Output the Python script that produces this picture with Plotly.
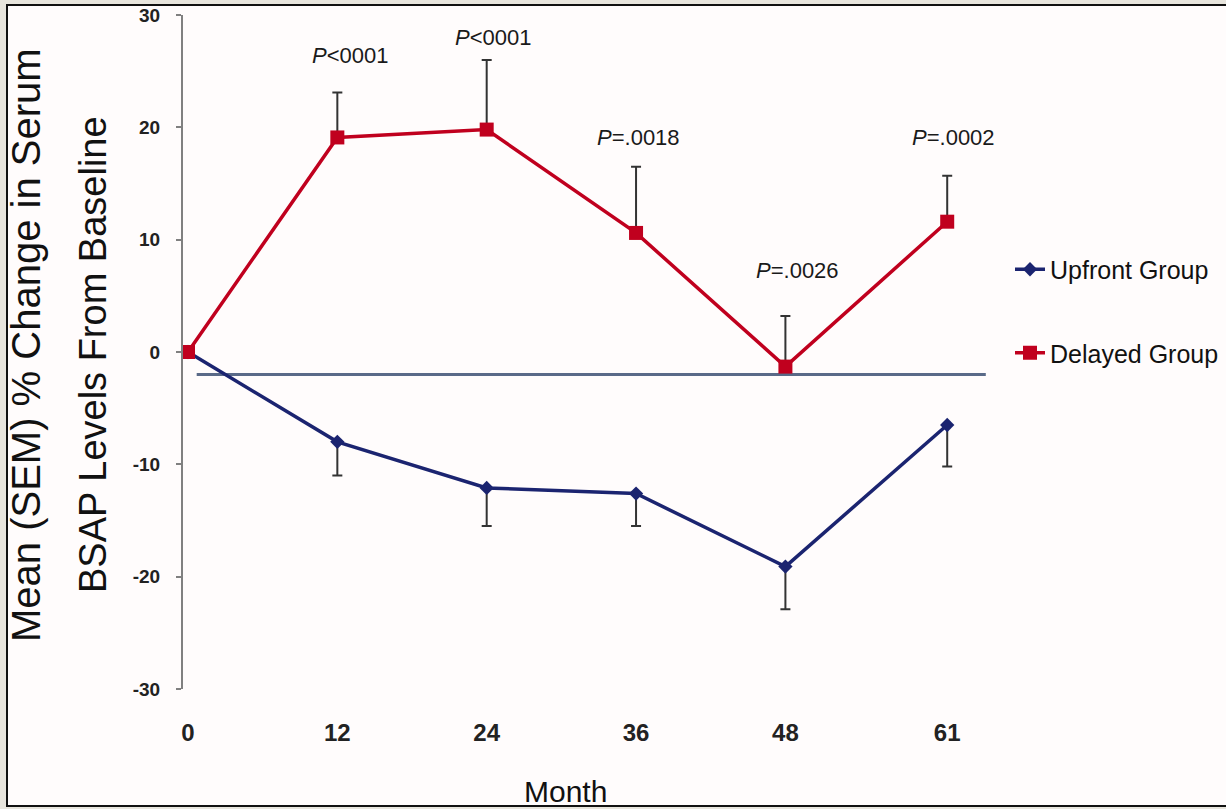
import plotly.graph_objects as go

months = [0, 12, 24, 36, 48, 61]
tick_labels = ["0", "12", "24", "36", "48", "61"]

upfront = [0, -8.0, -12.1, -12.6, -19.1, -6.5]
upfront_sem = [0, 3.0, 3.4, 2.9, 3.8, 3.7]

delayed = [0, 19.1, 19.8, 10.6, -1.3, 11.6]
delayed_sem = [0, 4.0, 6.2, 5.9, 4.5, 4.1]

p_labels = ["", "<i>P</i><0001", "<i>P</i><0001", "<i>P</i>=.0018", "<i>P</i>=.0026", "<i>P</i>=.0002"]
p_label_y = [None, 26.4, 28.0, 19.1, 7.3, 19.1]
p_label_xshift = [0, 13, 6, 2, 12, 6]

y_ticks = [-30, -20, -10, 0, 10, 20, 30]
y_tick_text = ["-30", "-20", "-10", "0", "10", "20", "30"]
ref_line_y = -2
ref_line_x = [0.7, 64.1]

FONT = "Liberation Sans, Arial, sans-serif"
NAVY = "#1B2470"
RED = "#C0001E"
ERR = "#333333"

fig = go.Figure()
fig.add_trace(go.Scatter(
    x=months, y=upfront, name="Upfront Group", mode="lines+markers",
    line=dict(color=NAVY, width=3.5),
    marker=dict(symbol="diamond", size=11, color=NAVY),
    error_y=dict(type="data", symmetric=False, array=[0]*len(months), arrayminus=upfront_sem,
                 color=ERR, thickness=2, width=5),
    legendgroup="a",
))
fig.add_trace(go.Scatter(
    x=months, y=delayed, name="Delayed Group", mode="lines+markers",
    line=dict(color=RED, width=3.5),
    marker=dict(symbol="square", size=14, color=RED),
    error_y=dict(type="data", symmetric=False, array=delayed_sem, arrayminus=[0]*len(months),
                 color=ERR, thickness=2, width=5),
    legendgroup="b",
))

L, R, T, B = 183, 997, 15, 689
W, H = 1226, 809
pw, ph = R - L, B - T

def px(x):
    return (x - L) / pw

def py(y):
    return (B - y) / ph

shapes = [
    dict(type="rect", xref="paper", yref="paper", x0=px(7), x1=px(1240), y0=py(806), y1=py(5),
         fillcolor="#FFFCFC", line=dict(color="#111111", width=2), layer="below"),
    dict(type="line", xref="x", yref="y", x0=ref_line_x[0], x1=ref_line_x[1], y0=ref_line_y, y1=ref_line_y,
         line=dict(color="#5A6A88", width=3), layer="below"),
]

annotations = []
for m, lab, yy, xs in zip(months, p_labels, p_label_y, p_label_xshift):
    if lab:
        annotations.append(dict(x=m, y=yy, xref="x", yref="y", text=lab, showarrow=False, xshift=xs,
                                font=dict(family=FONT, size=22, color="#1A1A1A"),
                                xanchor="center", yanchor="middle"))

annotations += [
    dict(x=px(26), y=py(345), xref="paper", yref="paper", text="Mean (SEM) % Change in Serum",
         textangle=-90, showarrow=False, font=dict(family=FONT, size=40, color="#111111"),
         xanchor="center", yanchor="middle"),
    dict(x=px(93), y=py(355), xref="paper", yref="paper", text="BSAP Levels From Baseline",
         textangle=-90, showarrow=False, font=dict(family=FONT, size=38, color="#111111"),
         xanchor="center", yanchor="middle"),
    dict(x=px(565), y=py(792), xref="paper", yref="paper", text="Month", showarrow=False,
         font=dict(family=FONT, size=30, color="#111111"), xanchor="center", yanchor="middle"),
]

fig.update_layout(
    width=W, height=H,
    margin=dict(l=L, r=W - R, t=T, b=H - B, pad=0, autoexpand=False),
    paper_bgcolor="#E8E5DD",
    plot_bgcolor="rgba(0,0,0,0)",
    shapes=shapes,
    annotations=annotations,
    showlegend=True,
    legend=dict(x=px(1010), y=py(311), xanchor="left", yanchor="middle",
                font=dict(family=FONT, size=25, color="#111111"),
                bgcolor="rgba(0,0,0,0)", tracegroupgap=48, itemwidth=30),
    xaxis=dict(range=[-0.4, 65], tickvals=months, ticktext=tick_labels, showline=False, ticks="",
               showgrid=False, zeroline=False, ticklabelstandoff=27, automargin=False,
               tickfont=dict(family=FONT, size=24, color="#222222", weight="bold")),
    yaxis=dict(range=[-30, 30], tickvals=y_ticks, ticktext=y_tick_text, showline=True,
               linecolor="#808080", linewidth=2, ticks="outside", ticklen=5, tickcolor="#808080",
               tickwidth=2, showgrid=False, zeroline=False, ticklabelstandoff=12, automargin=False,
               tickfont=dict(family=FONT, size=19, color="#222222", weight="bold")),
)

fig.write_html("out.html")
